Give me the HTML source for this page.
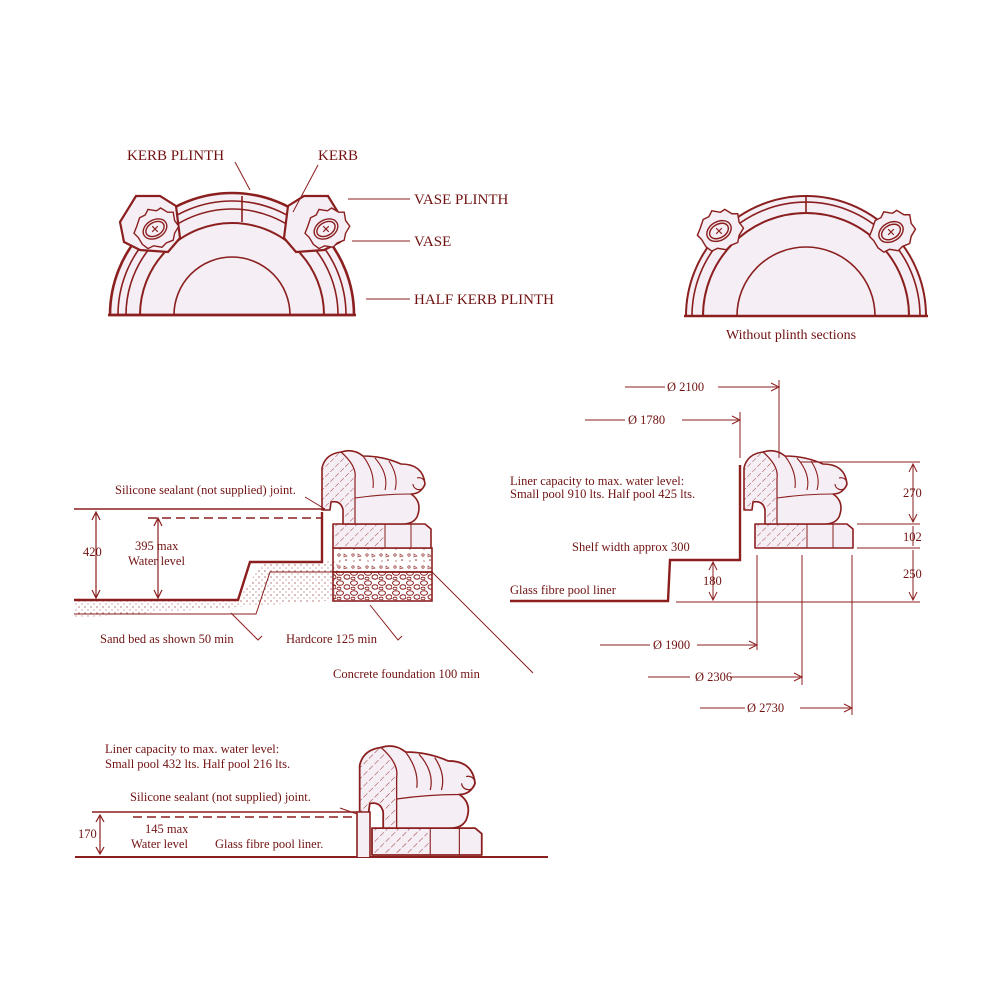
<!DOCTYPE html>
<html><head><meta charset="utf-8"><style>
html,body{margin:0;padding:0;background:#fff}
svg{display:block}
text{font-family:"Liberation Serif",serif;fill:#701212}
</style></head><body>
<svg width="1000" height="1000" viewBox="0 0 1000 1000" xmlns="http://www.w3.org/2000/svg">
<defs>
<pattern id="hat" width="7" height="7" patternUnits="userSpaceOnUse" patternTransform="rotate(45)">
<line x1="0" y1="0" x2="0" y2="7" stroke="#8b1f1f" stroke-width="0.8" stroke-dasharray="4 2"/>
</pattern>
<pattern id="dots" width="6" height="6" patternUnits="userSpaceOnUse">
<circle cx="1" cy="1" r="0.6" fill="#8b1f1f"/><circle cx="4" cy="4" r="0.5" fill="#8b1f1f"/>
</pattern>
<pattern id="conc" width="14" height="12" patternUnits="userSpaceOnUse">
<circle cx="3" cy="3" r="1.2" fill="none" stroke="#8b1f1f" stroke-width="0.7"/>
<circle cx="10" cy="8" r="0.8" fill="#8b1f1f"/><path d="M8 2 l3 2 l-3 1z" fill="none" stroke="#8b1f1f" stroke-width="0.6"/>
<circle cx="4" cy="9" r="0.6" fill="#8b1f1f"/>
</pattern>
<pattern id="hard" width="14" height="10" patternUnits="userSpaceOnUse">
<ellipse cx="4" cy="3" rx="3.5" ry="2.3" fill="none" stroke="#8b1f1f" stroke-width="1"/>
<ellipse cx="11" cy="7" rx="3" ry="2.2" fill="none" stroke="#8b1f1f" stroke-width="1"/>
<ellipse cx="3" cy="8.5" rx="2" ry="1.3" fill="none" stroke="#8b1f1f" stroke-width="0.8"/>
</pattern>
<g id="kerb" stroke="#8b1f1f" fill="#f5eff5" stroke-width="1.6" stroke-linejoin="round">
<path d="M0,0 L0,-24 L92,-24 L98,-19 L98,0 Z"/>
<path d="M0,0 L0,-24 L46,-24 L52,-17 L52,0 Z" fill="url(#hat)" stroke="none"/>
<line x1="52" y1="-24" x2="52" y2="0" stroke-width="1"/><line x1="78" y1="-24" x2="78" y2="0" stroke-width="1"/>
<path d="M-11,-38 L-11,-80 Q-8,-94 8,-96 Q20,-100 30,-92 Q50,-92 68,-84 Q90,-84 92,-64 Q88,-54 78,-54 Q90,-46 84,-31 Q80,-24 70,-24 L10,-24 L10,-38 Q8,-48 -2,-46 L-3,-38 Z"/>
<path d="M-11,-38 L-11,-80 Q-8,-94 8,-96 Q18,-88 20,-80 L22,-24 L10,-24 L10,-38 Q8,-48 -2,-46 L-3,-38 Z" fill="url(#hat)" stroke="none"/>
<path d="M8,-96 Q24,-82 22,-70 L22,-24" fill="none" stroke-width="1.2"/>
<path d="M30,-92 Q42,-76 40,-60 M42,-90 Q56,-74 52,-58 M56,-87 Q66,-72 62,-58" fill="none" stroke-width="1.1"/>
<path d="M22,-50 Q50,-54 78,-54" fill="none" stroke-width="1.1"/>
<path d="M84,-70 a6,6 0 1,1 -4,6" fill="none" stroke-width="1.1"/>
</g>
<g id="vase" stroke="#8b1f1f" fill="#f5eff5" stroke-width="2">
<path d="M-26,-4 L-22,-16 L-14,-20 L-10,-28 L2,-26 L8,-30 L18,-24 L26,-24 L28,-12 L34,-4 L28,6 L26,16 L16,20 L10,26 L-2,24 L-10,28 L-18,22 L-24,12 L-30,6 Z"/>
<ellipse cx="0" cy="0" rx="18" ry="13" transform="rotate(-30)"/>
<ellipse cx="0" cy="0" rx="14" ry="9.5" transform="rotate(-30)"/>
<path d="M-4,-4 L4,4 M4,-4 L-4,4" stroke-width="1.6"/>
</g>
</defs>
<g stroke="#8b1f1f" fill="none" stroke-width="1.6">
<!-- left plan -->
<path d="M110,315 A122,122 0 0 1 354,315 Z" fill="#f5eff5" stroke-width="2.6"/>
<path d="M118,315 A114,114 0 0 1 346,315"/>
<path d="M126,315 A106,106 0 0 1 338,315"/>
<path d="M140,315 A92,92 0 0 1 324,315" stroke-width="2"/>
<path d="M174,315 A58,58 0 0 1 290,315"/>
<line x1="242" y1="196" x2="242" y2="222"/>
<path d="M120,222 L136,196 L160,196 L176,206 L180,238 L168,252 L140,250 L124,242 Z" fill="#f5eff5" stroke-width="2.2"/>
<path d="M344,222 L328,196 L304,196 L288,206 L284,238 L296,252 L324,250 L340,242 Z" fill="#f5eff5" stroke-width="2.2"/>
<use href="#vase" transform="translate(155,229) scale(0.7)"/><use href="#vase" transform="translate(326,229) scale(0.7)"/>
<line x1="108" y1="315" x2="356" y2="315" stroke-width="2.4"/>
<!-- right plan -->
<path d="M686,316 A120,120 0 0 1 926,316 Z" fill="#f5eff5" stroke-width="2"/>
<path d="M692,316 A114,114 0 0 1 920,316"/>
<path d="M703,316 A103,103 0 0 1 909,316" stroke-width="2"/>
<path d="M737,316 A69,69 0 0 1 875,316"/>
<line x1="806" y1="196" x2="806" y2="213"/>
<use href="#vase" transform="translate(719,231) scale(0.72)"/><use href="#vase" transform="translate(891,232) scale(0.72)"/>
<line x1="684" y1="316" x2="928" y2="316" stroke-width="2.4"/>
<!-- leaders top -->
<line x1="235" y1="162" x2="250" y2="190" stroke-width="1"/>
<line x1="318" y1="165" x2="293" y2="212" stroke-width="1"/>
<line x1="348" y1="199" x2="410" y2="199" stroke-width="1"/>
<line x1="352" y1="241" x2="410" y2="241" stroke-width="1"/>
<line x1="366" y1="299" x2="410" y2="299" stroke-width="1"/>
<!-- left section -->
<path d="M74,600 L238,600 L264,560 L340,560 L340,600 L74,618 Z" fill="url(#dots)" stroke="none"/>
<path d="M74,600 L238,600 L250,562 L322,562 L322,512" stroke-width="2.4"/>
<path d="M74,614 L256,614 L270,572 L333,572" stroke-width="1"/>
<rect x="333" y="548" width="99" height="24" fill="url(#conc)" stroke-width="1.6"/>
<rect x="333" y="572" width="99" height="29" fill="url(#hard)" stroke-width="1.6"/>
<use href="#kerb" x="333" y="548"/>
<line x1="74" y1="509" x2="325" y2="509" stroke-width="1.6"/>
<line x1="148" y1="518" x2="322" y2="518" stroke-dasharray="9 5"/>
<path d="M96,512 L96,598 M92,520 L96,512 L100,520 M92,590 L96,598 L100,590" stroke-width="1.2"/>
<path d="M158,518 L158,598 M154,526 L158,518 L162,526 M154,590 L158,598 L162,590" stroke-width="1.2"/>
<line x1="305" y1="497" x2="325" y2="509" stroke-width="1"/>
<path d="M231,613 L258,640 L262,636" stroke-width="1"/>
<path d="M370,605 L398,640 L402,636" stroke-width="1"/>
<path d="M432,572 L533,673" stroke-width="1"/>
<!-- right section -->
<path d="M510,601 L668,601 L670,560 L740,560 L740,465" stroke-width="2.4"/>
<use href="#kerb" x="755" y="548"/>
<g stroke-width="1">
<line x1="676" y1="602" x2="920" y2="602"/>
<line x1="800" y1="462" x2="920" y2="462"/>
<line x1="857" y1="524" x2="920" y2="524"/>
<line x1="857" y1="548" x2="920" y2="548"/>
<path d="M913,464 L913,522 M909,472 L913,464 L917,472 M909,514 L913,522 L917,514"/>
<path d="M913,526 L913,546 M913,550 L913,600 M909,592 L913,600 L917,592"/>
<path d="M713,562 L713,600 M709,570 L713,562 L717,570 M709,592 L713,600 L717,592"/>
<line x1="779" y1="380" x2="779" y2="458"/><line x1="740" y1="412" x2="740" y2="458"/>
<line x1="625" y1="387" x2="665" y2="387"/><path d="M718,387 L777,387 M771,383 L779,387 L771,391"/>
<line x1="585" y1="420" x2="625" y2="420"/><path d="M682,420 L738,420 M732,416 L740,420 L732,424"/>
<line x1="757" y1="555" x2="757" y2="650"/>
<line x1="802" y1="555" x2="802" y2="685"/>
<line x1="852" y1="555" x2="852" y2="715"/>
<line x1="600" y1="645" x2="650" y2="645"/><path d="M697,645 L755,645 M749,641 L757,645 L749,649"/>
<line x1="648" y1="677" x2="690" y2="677"/><path d="M730,677 L800,677 M794,673 L802,677 L794,681"/>
<line x1="700" y1="708" x2="745" y2="708"/><path d="M800,708 L850,708 M844,704 L852,708 L844,712"/>
</g>
<!-- bottom section -->
<use href="#kerb" transform="translate(372,855) scale(1.12)"/>
<line x1="75" y1="857" x2="548" y2="857" stroke-width="2"/>
<path d="M357,857 L357,812 L370,812 L370,857" fill="#f5eff5" stroke-width="1.6"/>
<line x1="92" y1="812" x2="357" y2="812" stroke-width="1.6"/>
<line x1="133" y1="817" x2="357" y2="817" stroke-dasharray="9 5"/>
<path d="M100,815 L100,854 M96,822 L100,815 L104,822 M96,847 L100,854 L104,847" stroke-width="1.2"/>
<line x1="340" y1="808" x2="357" y2="814" stroke-width="1"/>
</g>
<g font-size="15">
<text x="127" y="160">KERB PLINTH</text>
<text x="318" y="160">KERB</text>
<text x="414" y="204">VASE PLINTH</text>
<text x="414" y="246">VASE</text>
<text x="414" y="304">HALF KERB PLINTH</text>
</g>
<g font-size="14">
<text x="726" y="339">Without plinth sections</text>
</g>
<g font-size="12.5">
<text x="115" y="494">Silicone sealant (not supplied) joint.</text>
<text x="83" y="556">420</text>
<text x="135" y="550">395 max</text>
<text x="128" y="565">Water level</text>
<text x="100" y="643">Sand bed as shown 50 min</text>
<text x="286" y="643">Hardcore 125 min</text>
<text x="333" y="678">Concrete foundation 100 min</text>
<text x="667" y="391">Ø 2100</text>
<text x="628" y="424">Ø 1780</text>
<text x="510" y="485">Liner capacity to max. water level:</text>
<text x="510" y="498">Small pool 910 lts. Half pool 425 lts.</text>
<text x="572" y="551">Shelf width approx 300</text>
<text x="510" y="594">Glass fibre pool liner</text>
<text x="703" y="585">180</text>
<text x="903" y="497">270</text>
<text x="903" y="541">102</text>
<text x="903" y="578">250</text>
<text x="653" y="649">Ø 1900</text>
<text x="695" y="681">Ø 2306</text>
<text x="747" y="712">Ø 2730</text>
<text x="105" y="753">Liner capacity to max. water level:</text>
<text x="105" y="768">Small pool 432 lts. Half pool 216 lts.</text>
<text x="130" y="801">Silicone sealant (not supplied) joint.</text>
<text x="145" y="833">145 max</text>
<text x="78" y="838">170</text>
<text x="131" y="848">Water level</text>
<text x="215" y="848">Glass fibre pool liner.</text>
</g>
</svg>
</body></html>
